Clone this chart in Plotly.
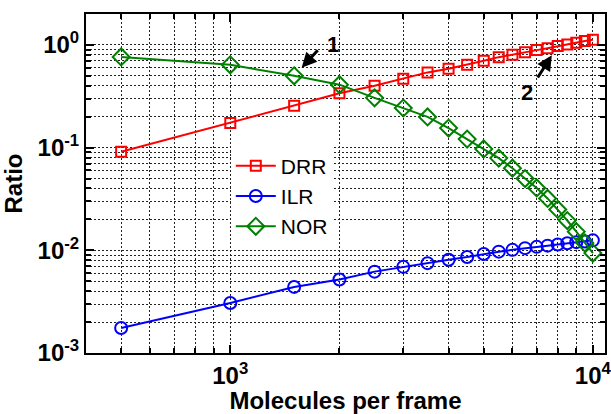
import numpy as np
import plotly.graph_objects as go

molecules = [500, 1000, 1500, 2000, 2500, 3000, 3500, 4000, 4500, 5000,
             5500, 6000, 6500, 7000, 7500, 8000, 8500, 9000, 9500, 10000]
drr = [0.091, 0.174, 0.255, 0.338, 0.40, 0.467, 0.54, 0.585, 0.64, 0.70,
       0.76, 0.80, 0.85, 0.89, 0.93, 0.975, 1.01, 1.05, 1.09, 1.12]
ilr = [0.00175, 0.00307, 0.0044, 0.0052, 0.0062, 0.0069, 0.0075, 0.0081, 0.0086, 0.0092,
       0.0097, 0.0101, 0.0105, 0.0108, 0.0111, 0.0114, 0.0117, 0.0120, 0.0122, 0.0125]
nor = [0.764, 0.64, 0.50, 0.41, 0.305, 0.243, 0.199, 0.155, 0.121, 0.097,
       0.079, 0.063, 0.050, 0.0405, 0.032, 0.025, 0.0195, 0.0152, 0.0118, 0.0094]

x_tickvals = [1000, 10000]
x_ticktext = ["<b>10<sup>3</sup></b>", "<b>10<sup>4</sup></b>"]
y_tickvals = [0.001, 0.01, 0.1, 1]
y_ticktext = ["<b>10<sup>-3</sup></b>", "<b>10<sup>-2</sup></b>", "<b>10<sup>-1</sup></b>", "<b>10<sup>0</sup></b>"]
x_minor = [400, 500, 600, 700, 800, 900, 2000, 3000, 4000, 5000, 6000, 7000, 8000, 9000]
y_minor = [m * 10.0 ** e for e in range(-3, 0) for m in range(2, 10)] + [2]

FONT = "Arial, Liberation Sans, sans-serif"
GRID = "#222222"
DASH = "1.5px,2.5px"

fig = go.Figure()
fig.add_trace(go.Scatter(x=molecules, y=drr, name="DRR", mode="lines+markers",
                         line=dict(color="#ff0000", width=2),
                         marker=dict(symbol="square-open", size=10, color="#ff0000",
                                     line=dict(width=2, color="#ff0000"))))
fig.add_trace(go.Scatter(x=molecules, y=ilr, name="ILR", mode="lines+markers",
                         line=dict(color="#0000ff", width=2),
                         marker=dict(symbol="circle-open", size=12, color="#0000ff",
                                     line=dict(width=2, color="#0000ff"))))
fig.add_trace(go.Scatter(x=molecules, y=nor, name="NOR", mode="lines+markers",
                         line=dict(color="#008000", width=2),
                         marker=dict(symbol="diamond-open", size=13, color="#008000",
                                     line=dict(width=2, color="#008000"))))

axis_common = dict(
    type="log", showline=True, linecolor="black", linewidth=2, mirror="allticks",
    ticks="inside", ticklen=8, tickwidth=1.5, tickcolor="black", automargin=False,
    showgrid=True, gridcolor=GRID, griddash=DASH, gridwidth=1.2,
    zeroline=False, tickfont=dict(family=FONT, size=24, color="black"),
    ticklabeloverflow="allow",
)
minor_common = dict(tickmode="array", ticks="inside", ticklen=5, tickcolor="black",
                    tickwidth=1.5, showgrid=True, gridcolor=GRID, griddash=DASH, gridwidth=1.2)

fig.update_xaxes(
    **axis_common, range=[np.log10(400), np.log10(10800)],
    tickmode="array", tickvals=x_tickvals, ticktext=x_ticktext,
    minor=dict(tickvals=x_minor, **minor_common),
    title=dict(text="<b>Molecules per frame</b>", font=dict(family=FONT, size=24, color="black")),
)
fig.update_yaxes(
    **axis_common, range=[-3, np.log10(2)],
    tickmode="array", tickvals=y_tickvals, ticktext=y_ticktext,
    minor=dict(tickvals=y_minor, **minor_common),
    title=dict(text="<b>Ratio</b>", font=dict(family=FONT, size=24, color="black")),
)

# annotations (arrows pointing to data points)
i1 = molecules.index(1500)
i2 = molecules.index(8000)
ann_font = dict(family=FONT, size=22, color="black")
fig.add_annotation(x=np.log10(molecules[i1]), y=np.log10(nor[i1]), xref="x", yref="y",
                   ax=25, ay=-27, showarrow=True, arrowhead=2, arrowsize=1, arrowwidth=3,
                   arrowcolor="black", standoff=11, text="")
fig.add_annotation(x=np.log10(molecules[i1]), y=np.log10(nor[i1]), xref="x", yref="y",
                   showarrow=False, text="<b>1</b>", font=ann_font, xshift=39, yshift=31)
fig.add_annotation(x=np.log10(molecules[i2]), y=np.log10(drr[i2]), xref="x", yref="y",
                   ax=-21, ay=33, showarrow=True, arrowhead=2, arrowsize=1, arrowwidth=3,
                   arrowcolor="black", standoff=11, text="")
fig.add_annotation(x=np.log10(molecules[i2]), y=np.log10(drr[i2]), xref="x", yref="y",
                   showarrow=False, text="<b>2</b>", font=ann_font, xshift=-31, yshift=-46)

fig.update_layout(
    width=611, height=414,
    margin=dict(l=86, r=6, t=14, b=61, autoexpand=False),
    plot_bgcolor="white", paper_bgcolor="white",
    font=dict(family=FONT, color="black"),
    legend=dict(x=0.279, y=0.612, xanchor="left", yanchor="top",
                bgcolor="white", borderwidth=0, itemwidth=40,
                font=dict(family=FONT, size=21, color="black"),
                tracegroupgap=0),
    showlegend=True,
)

fig.write_html("out.html", config={"displayModeBar": False},
               post_script="document.body.style.margin='0';document.body.style.overflow='hidden';")
